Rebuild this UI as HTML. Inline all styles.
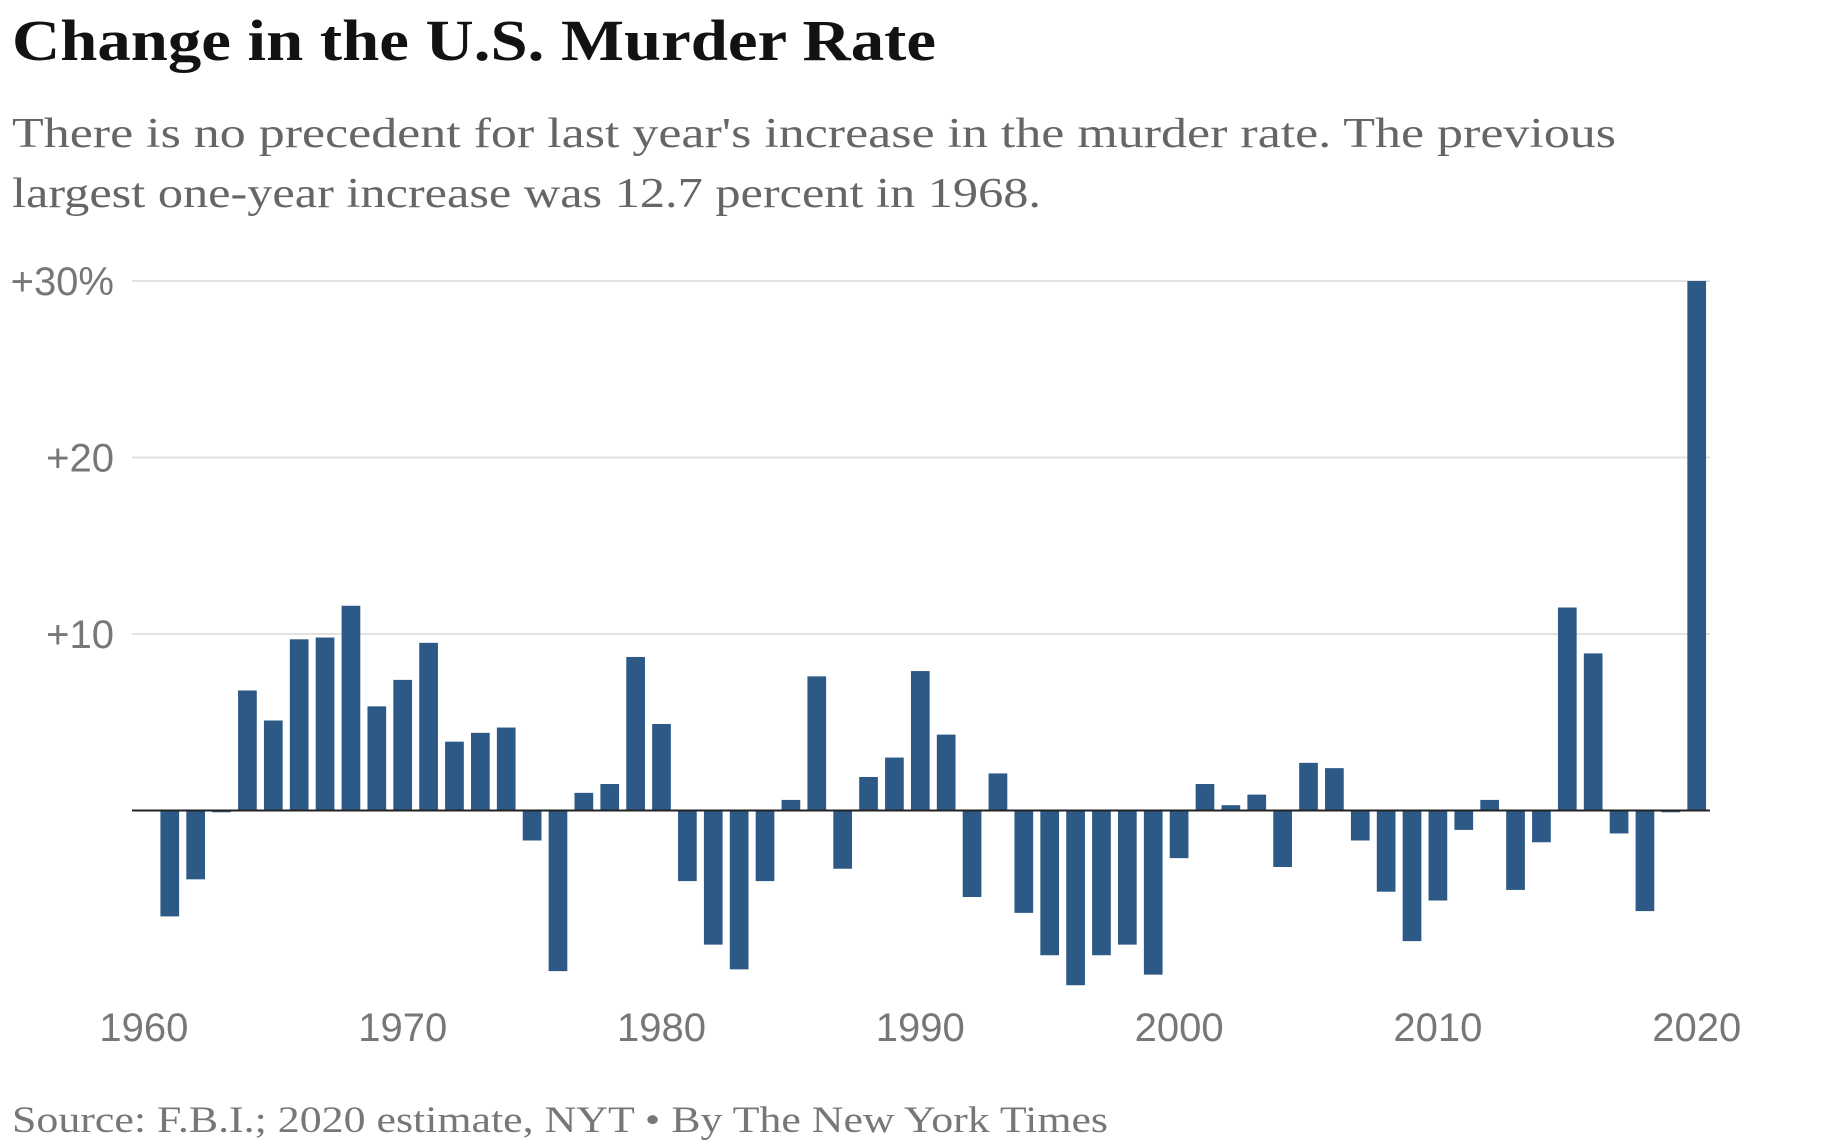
<!DOCTYPE html>
<html><head><meta charset="utf-8"><style>
html,body{margin:0;padding:0;background:#fff;}
svg{display:block;}
</style></head><body>
<svg id="chart" width="1834" height="1148" viewBox="0 0 1834 1148" xmlns="http://www.w3.org/2000/svg">
<text x="12" y="60" font-family="Liberation Serif, serif" font-weight="bold" font-size="58" fill="#121212" textLength="924" lengthAdjust="spacingAndGlyphs">Change in the U.S. Murder Rate</text>
<text x="12" y="147" font-family="Liberation Serif, serif" font-size="42" fill="#666" textLength="1604" lengthAdjust="spacingAndGlyphs">There is no precedent for last year's increase in the murder rate. The previous</text>
<text x="12" y="207" font-family="Liberation Serif, serif" font-size="42" fill="#666" textLength="1029" lengthAdjust="spacingAndGlyphs">largest one-year increase was 12.7 percent in 1968.</text>
<g id="grid"></g>
<g id="bars"></g>
<g id="xaxis"></g>
<text x="12" y="1132" font-family="Liberation Serif, serif" font-size="37" fill="#777" textLength="1096" lengthAdjust="spacingAndGlyphs">Source: F.B.I.; 2020 estimate, NYT • By The New York Times</text>
</svg>
<script>
const years = [1961,1962,1963,1964,1965,1966,1967,1968,1969,1970,1971,1972,1973,1974,1975,1976,1977,1978,1979,1980,1981,1982,1983,1984,1985,1986,1987,1988,1989,1990,1991,1992,1993,1994,1995,1996,1997,1998,1999,2000,2001,2002,2003,2004,2005,2006,2007,2008,2009,2010,2011,2012,2013,2014,2015,2016,2017,2018,2019,2020];
const changes = [-6.0,-3.9,-0.1,6.8,5.1,9.7,9.8,11.6,5.9,7.4,9.5,3.9,4.4,4.7,-1.7,-9.1,1.0,1.5,8.7,4.9,-4.0,-7.6,-9.0,-4.0,0.6,7.6,-3.3,1.9,3.0,7.9,4.3,-4.9,2.1,-5.8,-8.2,-9.9,-8.2,-7.6,-9.3,-2.7,1.5,0.3,0.9,-3.2,2.7,2.4,-1.7,-4.6,-7.4,-5.1,-1.1,0.6,-4.5,-1.8,11.5,8.9,-1.3,-5.7,-0.1,30.0];
const yTicks = [0,10,20,30];
const yTickLabels = ["","+10","+20","+30%"];
const xTicks = [1960,1970,1980,1990,2000,2010,2020];

const NS = "http://www.w3.org/2000/svg";
function x(year){ return 143.9 + (year-1960)*25.88; }
function y(v){ return 810.5 - v*17.65; }
const barW = 18.7;

const grid = document.getElementById('grid');
yTicks.forEach((t,i)=>{
  if(t!==0){
    const l=document.createElementNS(NS,'line');
    l.setAttribute('x1',132);l.setAttribute('x2',1710);
    l.setAttribute('y1',y(t));l.setAttribute('y2',y(t));
    l.setAttribute('stroke','#e2e2e2');l.setAttribute('stroke-width',2);
    
    
    grid.appendChild(l);
    const tx=document.createElementNS(NS,'text');
    tx.setAttribute('x',114);tx.setAttribute('y',y(t)+14);
    tx.setAttribute('text-anchor','end');
    tx.setAttribute('font-family','Liberation Sans, sans-serif');
    tx.setAttribute('font-size',40);tx.setAttribute('fill','#777');
    tx.textContent=yTickLabels[i];
    
    
    grid.appendChild(tx);
  }
});

const bars=document.getElementById('bars');
years.forEach((yr,i)=>{
  const v=changes[i];
  const r=document.createElementNS(NS,'rect');
  const top=Math.min(y(v),y(0)), h=Math.max(Math.abs(y(v)-y(0)),1.5);
  r.setAttribute('x',x(yr)-barW/2);r.setAttribute('y',top);
  r.setAttribute('width',barW);r.setAttribute('height',h);
  r.setAttribute('fill','#2d5986');
  
  
  bars.appendChild(r);
});
const zl=document.createElementNS(NS,'line');
zl.setAttribute('x1',132);zl.setAttribute('x2',1710);
zl.setAttribute('y1',y(0));zl.setAttribute('y2',y(0));
zl.setAttribute('stroke','#222');zl.setAttribute('stroke-width',2);


bars.appendChild(zl);

const xa=document.getElementById('xaxis');
xTicks.forEach(t=>{
  const tx=document.createElementNS(NS,'text');
  tx.setAttribute('x',x(t));tx.setAttribute('y',1041);
  tx.setAttribute('text-anchor','middle');
  tx.setAttribute('font-family','Liberation Sans, sans-serif');
  tx.setAttribute('font-size',40);tx.setAttribute('fill','#777');
  tx.textContent=t;
  
  
  xa.appendChild(tx);
});
</script>
</body></html>
